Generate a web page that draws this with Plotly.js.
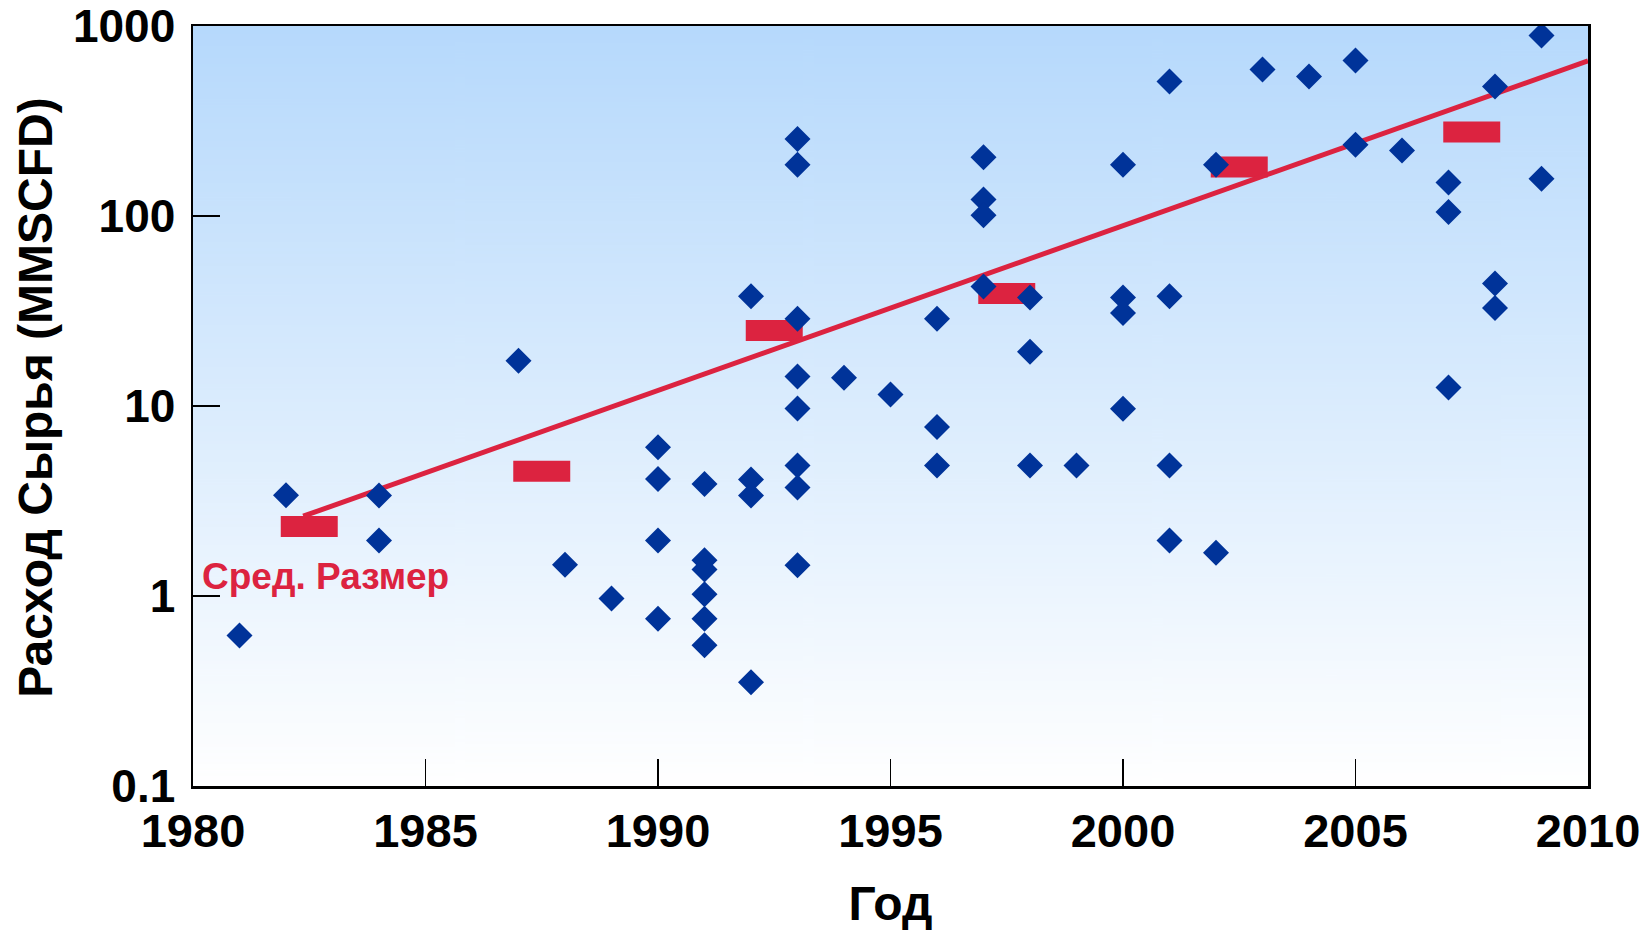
<!DOCTYPE html>
<html>
<head>
<meta charset="utf-8">
<script src="https://cdn.plot.ly/plotly-3.0.1.min.js"></script>
<style>
  html, body { margin: 0; padding: 0; background: #ffffff; }
  #chart { width: 1645px; height: 930px; }
</style>
</head>
<body>
<div id="chart"></div>
<script>
// ---- Data ----
const projectYears = [
  1981,
  1982,
  1984, 1984,
  1987,
  1988,
  1989,
  1990, 1990, 1990, 1990,
  1991, 1991, 1991, 1991, 1991, 1991,
  1992, 1992, 1992, 1992,
  1993, 1993, 1993, 1993, 1993, 1993, 1993, 1993,
  1994,
  1995,
  1996, 1996, 1996,
  1997, 1997, 1997, 1997,
  1998, 1998, 1998,
  1999,
  2000, 2000, 2000, 2000,
  2001, 2001, 2001, 2001,
  2002, 2002,
  2003,
  2004,
  2005, 2005,
  2006,
  2007, 2007, 2007,
  2008, 2008, 2008,
  2009, 2009
];
const projectFeed = [
  0.62,
  3.39,
  3.38, 1.96,
  17.3,
  1.46,
  0.97,
  6.06, 4.13, 1.96, 0.76,
  3.89, 1.54, 1.38, 1.02, 0.76, 0.55,
  37.8, 4.10, 3.38, 0.352,
  254, 186, 28.8, 14.3, 9.7, 4.86, 3.73, 1.45,
  14.1,
  11.5,
  28.8, 7.76, 4.86,
  204, 122, 101, 42.6,
  37.2, 19.3, 4.86,
  4.86,
  186, 37.2, 30.9, 9.66,
  511, 37.8, 4.86, 1.96,
  186, 1.69,
  591,
  543,
  659, 237,
  221,
  150, 105, 12.5,
  481, 44.1, 32.8,
  892, 157
];
// Average size per 5-year period
const avgYears = [1982.5, 1987.5, 1992.5, 1997.5, 2002.5, 2007.5];
const avgFeed  = [2.32, 4.54, 25.0, 39.1, 181, 277];
// Trend line end points
const trendYears = [1982.37, 2010];
const trendFeed  = [2.63, 655];
// Tick labels
const xTickVals = [1980, 1985, 1990, 1995, 2000, 2005, 2010];
const xTickText = ['1980', '1985', '1990', '1995', '2000', '2005', '2010'];
const yTickVals = [0.1, 1, 10, 100, 1000];
const yTickText = ['0.1', '1', '10', '100', '1000'];
// Text
const xTitle = 'Год';
const yTitle = 'Расход Сырья (MMSCFD)';
const avgLabel = 'Сред. Размер';

// ---- Styles ----
const FONT = 'Liberation Sans, Arial, sans-serif';
const BLUE = '#003399';
const RED = '#DC2340';

// vertical gradient for the plot background
function gradientURL() {
  const c = document.createElement('canvas');
  c.width = 8; c.height = 512;
  const g = c.getContext('2d');
  const lg = g.createLinearGradient(0, 0, 0, 512);
  lg.addColorStop(0, '#B6D9FC');
  lg.addColorStop(1, '#FFFFFF');
  g.fillStyle = lg;
  g.fillRect(0, 0, 8, 512);
  return c.toDataURL('image/png');
}

const traces = [
  {
    type: 'scatter', mode: 'markers',
    x: avgYears, y: avgFeed,
    marker: { symbol: 'line-ew', size: 40.7, color: RED, line: { color: RED, width: 21 } },
    hoverinfo: 'x+y', showlegend: false
  },
  {
    type: 'scatter', mode: 'lines',
    x: trendYears, y: trendFeed,
    line: { color: RED, width: 5 },
    hoverinfo: 'skip', showlegend: false
  },
  {
    type: 'scatter', mode: 'markers',
    x: projectYears, y: projectFeed,
    marker: { symbol: 'diamond', size: 20, color: BLUE, line: { width: 0 } },
    hoverinfo: 'x+y', showlegend: false
  }
];

const layout = {
  width: 1645, height: 930,
  margin: { l: 193, r: 57, t: 26, b: 144, pad: 0 },
  paper_bgcolor: '#ffffff',
  plot_bgcolor: '#ffffff',
  showlegend: false,
  font: { family: FONT, color: '#000000' },
  images: [{
    source: gradientURL(), xref: 'paper', yref: 'paper',
    x: 0, y: 1, sizex: 1, sizey: 1, xanchor: 'left', yanchor: 'top',
    sizing: 'stretch', layer: 'below'
  }],
  xaxis: {
    range: [1980, 2010],
    tickmode: 'array', tickvals: xTickVals, ticktext: xTickText,
    ticks: 'inside', ticklen: 27, tickwidth: 1.5, tickcolor: '#000',
    showline: true, mirror: true, linecolor: '#000', linewidth: 2.5,
    showgrid: false, zeroline: false,
    tickfont: { family: FONT, size: 47, weight: 700, color: '#000' },
    ticklabelstandoff: 2,
    title: { text: xTitle, font: { family: FONT, size: 48, weight: 700, color: '#000' }, standoff: 38 }
  },
  yaxis: {
    type: 'log', range: [-1, 3],
    tickmode: 'array', tickvals: yTickVals, ticktext: yTickText,
    ticks: 'inside', ticklen: 27, tickwidth: 1.5, tickcolor: '#000',
    showline: true, mirror: true, linecolor: '#000', linewidth: 2.5,
    showgrid: false, zeroline: false,
    tickfont: { family: FONT, size: 46, weight: 700, color: '#000' },
    ticklabelstandoff: 6
  },
  annotations: [
    {
      text: avgLabel, xref: 'x', yref: 'y',
      x: 1980.15, y: Math.log10(1.27), xanchor: 'left', yanchor: 'middle',
      showarrow: false,
      font: { family: FONT, size: 37, weight: 700, color: RED }
    },
    {
      text: yTitle, xref: 'paper', yref: 'paper',
      x: -0.1134, y: 0.5118, xanchor: 'center', yanchor: 'middle',
      textangle: -90, showarrow: false,
      font: { family: FONT, size: 48, weight: 700, color: '#000' }
    }
  ]
};

Plotly.newPlot('chart', traces, layout, { staticPlot: true, displayModeBar: false });
</script>
</body>
</html>
